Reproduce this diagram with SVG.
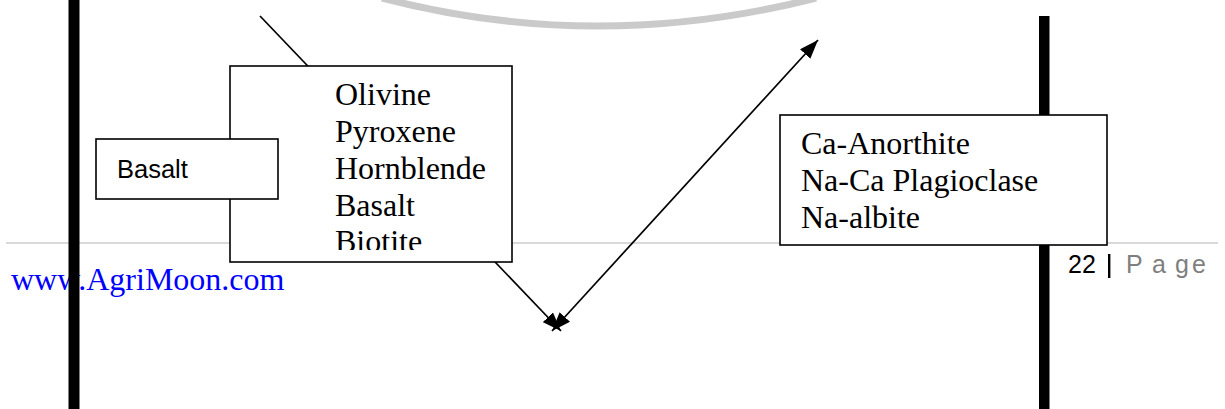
<svg xmlns="http://www.w3.org/2000/svg" width="1225" height="409" viewBox="0 0 1225 409">
  <style>
    .box { fill: #ffffff; stroke: #000000; stroke-width: 1.6; }
    .serif { font-family: "Liberation Serif", "Times New Roman", serif; font-size: 32px; fill: #000000; }
    .sans { font-family: "Liberation Sans", Arial, sans-serif; }
    .conn { stroke: #000000; stroke-width: 1.7; fill: none; }
    .bar { fill: #000000; }
  </style>
  <defs>
    <marker id="ah" viewBox="0 0 19 14" refX="19" refY="7" markerWidth="19" markerHeight="14" orient="auto-start-reverse" markerUnits="userSpaceOnUse">
      <path d="M0,0 L19,7 L0,14 z" fill="#000000"/>
    </marker>
    <clipPath id="clipMinerals">
      <rect x="231" y="67" width="280" height="183"/>
    </clipPath>
  </defs>
  <rect x="0" y="0" width="1225" height="409" fill="#ffffff"/>

  <g id="page-decor">
    <path d="M382,-2 Q597,54 816,-2" fill="none" stroke="#cacaca" stroke-width="7"/>
    <line x1="6" y1="243" x2="1218" y2="243" stroke="#d9d9d9" stroke-width="2"/>
    <text x="11" y="290" font-family="Liberation Serif, Times New Roman, serif" font-size="32" fill="#0000ff">www.AgriMoon.com</text>
    <rect class="bar" x="68.5" y="0" width="11" height="409"/>
    <rect class="bar" x="1039" y="16" width="10.5" height="393"/>
    <text class="sans" x="1068" y="273" font-size="25" fill="#000000">22</text>
    <rect x="1108" y="254" width="2.4" height="24" fill="#000000"/>
    <text class="sans" y="273" font-size="25" fill="#7f7f7f"><tspan x="1126">P</tspan><tspan x="1152">a</tspan><tspan x="1175">g</tspan><tspan x="1192">e</tspan></text>
  </g>

  <g id="connectors">
    <line class="conn" x1="260" y1="16" x2="561" y2="331" marker-end="url(#ah)"/>
    <line class="conn" x1="552" y1="331" x2="818" y2="40" marker-start="url(#ah)" marker-end="url(#ah)"/>
  </g>

  <g id="node-minerals">
    <rect class="box" x="230" y="66" width="282" height="196"/>
    <g clip-path="url(#clipMinerals)">
      <text class="serif" x="335" y="105">Olivine</text>
      <text class="serif" x="335" y="142">Pyroxene</text>
      <text class="serif" x="335" y="179">Hornblende</text>
      <text class="serif" x="335" y="215.5">Basalt</text>
      <text class="serif" x="335" y="252">Biotite</text>
    </g>
  </g>

  <g id="node-basalt">
    <rect class="box" x="96" y="139" width="182" height="60"/>
    <text class="sans" x="117" y="178" font-size="25.5" fill="#000000">Basalt</text>
  </g>

  <g id="node-feldspar">
    <rect class="box" x="780" y="115" width="327" height="130"/>
    <text class="serif" x="801" y="154">Ca-Anorthite</text>
    <text class="serif" x="801" y="191">Na-Ca Plagioclase</text>
    <text class="serif" x="801" y="228">Na-albite</text>
  </g>
</svg>
